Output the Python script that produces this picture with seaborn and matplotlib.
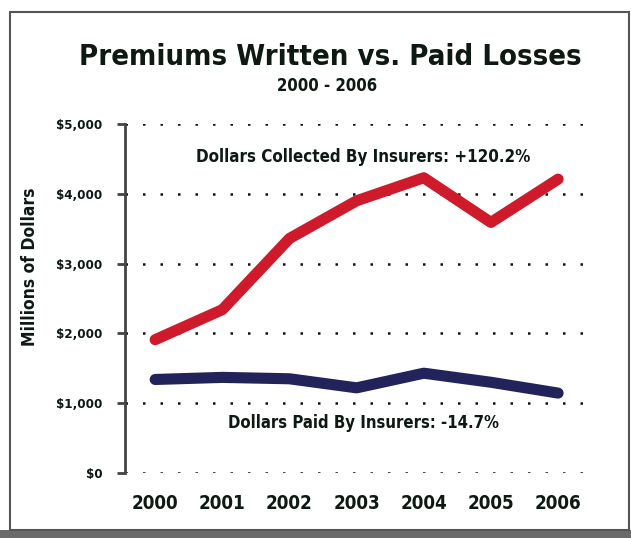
import numpy as np
import pandas as pd
import seaborn as sns
import matplotlib
matplotlib.use("Agg")
import matplotlib.pyplot as plt
from matplotlib import font_manager as fm
from matplotlib.patches import Rectangle
from matplotlib.ticker import FuncFormatter

# ---- data ----
years = ["2000", "2001", "2002", "2003", "2004", "2005", "2006"]
premiums_written = [1910, 2340, 3360, 3900, 4230, 3590, 4210]
paid_losses = [1340, 1370, 1350, 1220, 1430, 1300, 1145]
series_names = ["Premiums Written", "Paid Losses"]
y_ticks = [0, 1000, 2000, 3000, 4000, 5000]
title = "Premiums Written vs. Paid Losses"
subtitle = "2000 - 2006"
note_top = "Dollars Collected By Insurers: +120.2%"
note_bottom = "Dollars Paid By Insurers: -14.7%"
y_label = "Millions of Dollars"

df = pd.DataFrame({
    "year": years * 2,
    "x": list(range(len(years))) * 2,
    "value": premiums_written + paid_losses,
    "series": [series_names[0]] * len(years) + [series_names[1]] * len(years),
})

sns.set_theme(style="white")

names = {f.name for f in fm.fontManager.ttflist}
if "Liberation Sans Narrow" in names:
    FONT, STRETCH = "Liberation Sans Narrow", "normal"
elif "DejaVu Sans Condensed" in names:
    FONT, STRETCH = "DejaVu Sans Condensed", "normal"
else:
    FONT, STRETCH = "DejaVu Sans", "condensed"
plt.rcParams["font.family"] = [FONT, "DejaVu Sans"]
plt.rcParams["font.stretch"] = STRETCH

TXT = "#0e1913"
RED = "#cf1a2b"
NAVY = "#22235a"

fig = plt.figure(figsize=(6.31, 5.38), dpi=100)
fig.patch.set_facecolor("white")
ax = fig.add_axes([0.198, 0.1208, 0.745, 0.6487])

sns.lineplot(data=df, x="x", y="value", hue="series",
             palette=[RED, NAVY], linewidth=8, legend=False, ax=ax,
             solid_capstyle="round", solid_joinstyle="round")

ax.set_xlim(-0.45, 6.55)
ax.set_ylim(0, 5000)
ax.set_yticks(y_ticks)
ax.yaxis.set_major_formatter(FuncFormatter(lambda v, p: f"${v:,.0f}"))
ax.set_xticks(range(len(years)))
ax.set_xticklabels(years)

for v in y_ticks:
    ax.axhline(v, color="#111111", linestyle=(0, (1, 6)), linewidth=1.8, zorder=0)

for s in ["top", "right", "bottom"]:
    ax.spines[s].set_visible(False)
ax.spines["left"].set_color("#444444")
ax.spines["left"].set_linewidth(2)

ax.tick_params(axis="y", direction="out", length=6, width=2, color="#444444",
               pad=10, labelsize=9.5, labelcolor=TXT, left=True)
ax.tick_params(axis="x", length=0, pad=15, labelsize=13.5, labelcolor=TXT)
for lab in ax.get_yticklabels() + ax.get_xticklabels():
    lab.set_fontweight("heavy")

ax.set_xlabel("")
ax.set_ylabel("")

fig.text(0.048, 1 - 267 / 538, y_label, rotation=90, ha="center", va="center",
         fontsize=12.5, fontweight="heavy", color=TXT)

fig.text(330 / 631, 1 - 57 / 538, title, ha="center", va="center",
         fontsize=21, fontweight="heavy", color=TXT)
fig.text(327 / 631, 1 - 86 / 538, subtitle, ha="center", va="center",
         fontsize=12, fontweight="heavy", color=TXT)

ax.text(3.1, 4530, note_top, ha="center", va="center",
        fontsize=12.2, fontweight="heavy", color=TXT)
ax.text(3.1, 720, note_bottom, ha="center", va="center",
        fontsize=12, fontweight="heavy", color=TXT)

# page frame and shadow
fig.add_artist(Rectangle((0, 0), 1, 8 / 538, transform=fig.transFigure,
                         facecolor="#6a6a6a", edgecolor="none"))
fig.add_artist(Rectangle((10 / 631, 8 / 538), 619 / 631, 518 / 538,
                         transform=fig.transFigure, facecolor="none",
                         edgecolor="#555555", linewidth=1.5))

fig.savefig("out.png", dpi=100, facecolor="white")
